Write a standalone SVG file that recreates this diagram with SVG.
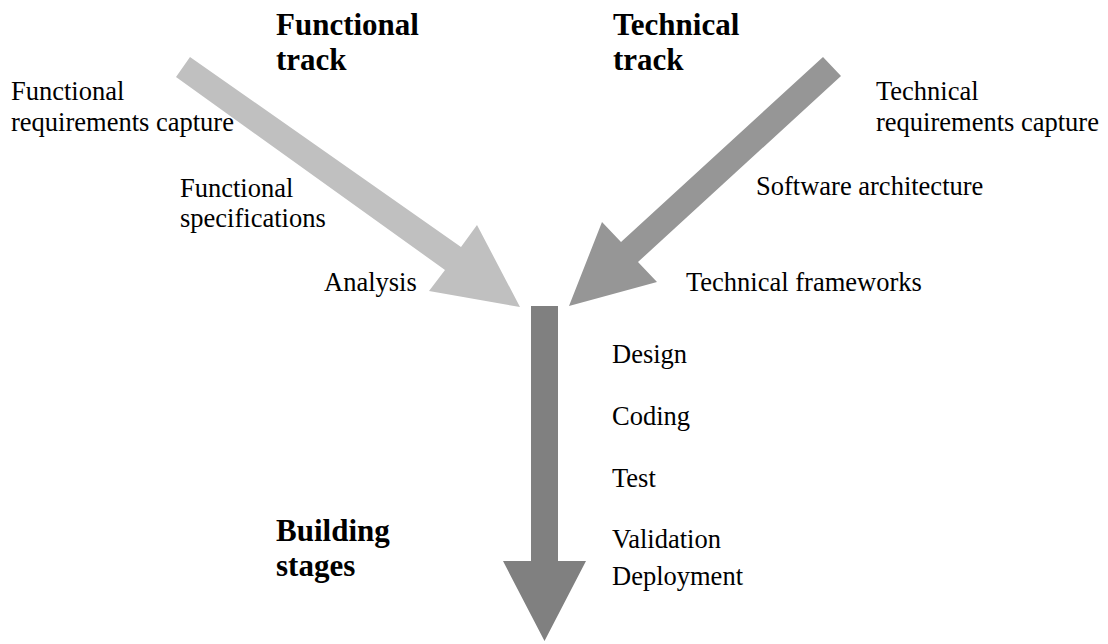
<svg xmlns="http://www.w3.org/2000/svg" width="1108" height="644" viewBox="0 0 1108 644">
<style>
text{font-family:"Liberation Serif","Times New Roman",serif;fill:#000}
.lbl{font-size:26.5px}
.ttl{font-size:31px;font-weight:bold}
.a1{fill:#c0c0c0}
.a2{fill:#969696}
.a3{fill:#808080}
</style>
<rect width="1108" height="644" fill="#fff"/>
<g id="connectors">
<polygon class="a1" points="190,57 461,247 477,225 520,307 429,291 445,270 176,77"/>
<polygon class="a2" points="823,57 841,76 638,262 657,282 569,306 602,222 621,242"/>
<polygon class="a3" points="531,306 558,306 558,561 586,561 544.5,641 503,561 531,561"/>
</g>
<g id="functional-track"><text class="ttl" x="276" y="35">Functional</text><text class="ttl" x="276" y="70">track</text></g>
<g id="technical-track"><text class="ttl" x="613" y="35">Technical</text><text class="ttl" x="613" y="70">track</text></g>
<g id="building-stages"><text class="ttl" x="276" y="541">Building</text><text class="ttl" x="276" y="576">stages</text></g>
<g id="func-req"><text class="lbl" x="11" y="100">Functional</text><text class="lbl" x="11" y="131">requirements capture</text></g>
<g id="func-spec"><text class="lbl" x="180" y="197">Functional</text><text class="lbl" x="180" y="227">specifications</text></g>
<g id="analysis"><text class="lbl" x="324" y="291">Analysis</text></g>
<g id="tech-req"><text class="lbl" x="876" y="100">Technical</text><text class="lbl" x="876" y="131">requirements capture</text></g>
<g id="soft-arch"><text class="lbl" x="756" y="195">Software architecture</text></g>
<g id="tech-fw"><text class="lbl" x="686" y="291">Technical frameworks</text></g>
<g id="design"><text class="lbl" x="612" y="363">Design</text></g>
<g id="coding"><text class="lbl" x="612" y="425">Coding</text></g>
<g id="test"><text class="lbl" x="612" y="487">Test</text></g>
<g id="validation"><text class="lbl" x="612" y="548">Validation</text></g>
<g id="deployment"><text class="lbl" x="612" y="585">Deployment</text></g>
</svg>
